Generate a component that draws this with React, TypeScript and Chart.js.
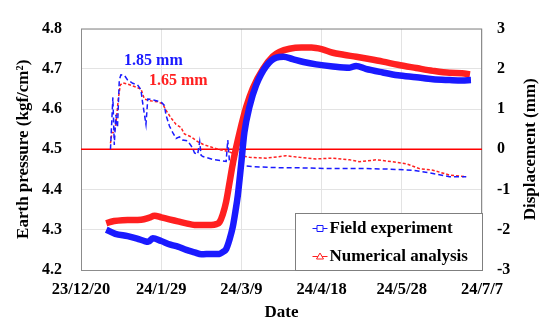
import React, { useEffect, useRef } from "react";
import { Chart, registerables } from "chart.js";

Chart.register(...registerables);

// X axis: days since 2023-12-20, labelled every 40 days
const xTickLabels = ["23/12/20", "24/1/29", "24/3/9", "24/4/18", "24/5/28", "24/7/7"];

// Earth pressure (kgf/cm2), left axis
const fieldPressureDays = [12.6, 17.1, 23.3, 28.0, 31.7, 33.5, 35.8, 40.0, 44.6, 48.3, 52.5, 56.6, 60.1, 64.9, 69.1, 70.5, 72.4, 74.1, 75.7, 77.0, 78.2, 79.9, 81.5, 84.0, 87.4, 92.4, 97.4, 101.0, 105.6, 111.0, 117.3, 125.6, 133.9, 137.2, 142.0, 150.5, 158.0, 167.2, 175.5, 183.8, 190.0, 194.5];
const fieldPressure = [4.300, 4.290, 4.284, 4.278, 4.272, 4.270, 4.279, 4.272, 4.263, 4.258, 4.250, 4.244, 4.239, 4.240, 4.240, 4.244, 4.252, 4.276, 4.307, 4.345, 4.385, 4.464, 4.542, 4.605, 4.660, 4.707, 4.728, 4.730, 4.724, 4.717, 4.711, 4.706, 4.703, 4.707, 4.700, 4.691, 4.684, 4.679, 4.674, 4.672, 4.671, 4.672];

const numericalPressureDays = [12.6, 15.0, 23.3, 30.0, 34.0, 36.7, 40.0, 44.0, 48.3, 52.5, 56.6, 64.9, 67.5, 69.1, 70.7, 72.4, 74.0, 75.7, 77.4, 79.1, 82.4, 85.7, 90.7, 95.7, 99.0, 104.0, 110.0, 115.0, 120.0, 125.6, 131.0, 137.3, 143.0, 150.5, 158.0, 167.2, 175.5, 183.8, 190.0, 194.0];
const numericalPressure = [4.316, 4.320, 4.324, 4.325, 4.330, 4.335, 4.331, 4.326, 4.321, 4.316, 4.312, 4.312, 4.314, 4.319, 4.338, 4.370, 4.415, 4.464, 4.505, 4.542, 4.605, 4.652, 4.699, 4.731, 4.742, 4.750, 4.753, 4.753, 4.749, 4.740, 4.735, 4.730, 4.725, 4.718, 4.710, 4.702, 4.695, 4.690, 4.689, 4.686];

// Displacement (mm), right axis
const fieldDispDays = [14.7, 15.9, 16.6, 17.4, 18.2, 19.1, 19.9, 21.6, 23.3, 25.8, 28.2, 29.9, 30.7, 32.4, 33.3, 34.9, 39.9, 41.6, 42.4, 44.1, 45.7, 47.4, 49.1, 50.7, 53.2, 55.7, 56.6, 58.2, 59.2, 59.9, 60.8, 65.7, 72.4, 73.2, 74.0, 75.7, 80.7, 89.0, 100.0, 109.0, 125.6, 142.2, 152.2, 165.5, 175.5, 183.8, 192.1];
const fieldDisp = [0.00, 1.29, 0.11, 0.86, 0.54, 1.72, 1.85, 1.84, 1.72, 1.64, 1.60, 1.48, 1.17, 0.62, 1.25, 1.24, 1.18, 1.09, 0.85, 0.58, 0.42, 0.27, 0.31, 0.23, 0.21, 0.03, -0.09, -0.12, 0.19, -0.15, -0.18, -0.25, -0.30, 0.23, -0.28, -0.36, -0.41, -0.44, -0.46, -0.46, -0.48, -0.48, -0.49, -0.52, -0.60, -0.68, -0.68];

const numericalDispDays = [14.7, 15.4, 16.6, 17.4, 18.6, 19.6, 20.8, 23.3, 26.6, 29.9, 31.6, 34.1, 38.2, 40.7, 42.4, 44.9, 47.4, 49.9, 51.6, 54.9, 58.2, 61.0, 64.1, 69.1, 73.2, 77.4, 84.0, 92.4, 102.3, 109.0, 117.3, 125.6, 133.9, 138.9, 147.2, 155.5, 162.2, 168.8, 175.5, 183.8, 192.1];
const numericalDisp = [0.15, 0.42, 0.42, 0.62, 1.25, 1.60, 1.65, 1.62, 1.56, 1.50, 1.25, 1.21, 1.18, 1.13, 0.97, 0.78, 0.62, 0.54, 0.38, 0.31, 0.19, 0.12, 0.07, -0.01, -0.05, -0.13, -0.20, -0.22, -0.16, -0.20, -0.24, -0.22, -0.26, -0.31, -0.26, -0.31, -0.36, -0.48, -0.52, -0.64, -0.68];

// Reference line at zero displacement
const zeroLineDays = [0, 200];
const zeroLine = [0, 0];

// Peak labels
const peakLabels = ["1.85 mm", "1.65 mm"];
const peakLabelDays = [36.1, 48.5];
const peakLabelValues = [4.72, 4.671];

const legendLabels = ["Field experiment", "Numerical analysis"];

const FONT = "'Liberation Serif', 'Times New Roman', serif";
const BLUE = "#1a1aff";
const RED = "#ff2020";

export default function App() {
  const ref = useRef<HTMLCanvasElement>(null);

  useEffect(() => {
    const pts = (xs: number[], ys: number[]) => xs.map((x, i) => ({ x, y: ys[i] }));

    const overlay = {
      id: "overlay",
      beforeDatasetsDraw(chart: any) {
        const { ctx, chartArea: a } = chart;
        ctx.save();
        ctx.strokeStyle = "#8c8c8c";
        ctx.lineWidth = 1;
        ctx.strokeRect(a.left + 0.5, a.top + 0.5, a.right - a.left - 1, a.bottom - a.top);
        ctx.restore();
      },
      afterDatasetsDraw(chart: any) {
        const { ctx, scales } = chart;
        ctx.save();
        ctx.font = `bold 16px ${FONT}`;
        ctx.textAlign = "center";
        ctx.textBaseline = "middle";
        const colors = [BLUE, RED];
        peakLabels.forEach((t, i) => {
          ctx.fillStyle = colors[i];
          ctx.fillText(t, scales.x.getPixelForValue(peakLabelDays[i]), scales.y.getPixelForValue(peakLabelValues[i]));
        });
        ctx.restore();
      },
      afterDraw(chart: any) {
        const { ctx, chartArea: a } = chart;
        ctx.save();
        ctx.fillStyle = "#000";
        ctx.font = `bold 17px ${FONT}`;
        ctx.textAlign = "center";
        ctx.textBaseline = "middle";
        const cy = (a.top + a.bottom) / 2;
        ctx.save();
        ctx.translate(24, cy);
        ctx.rotate(-Math.PI / 2);
        ctx.fillText("Earth pressure (kgf/cm²)", 0, 0);
        ctx.restore();
        ctx.save();
        ctx.translate(531, cy);
        ctx.rotate(-Math.PI / 2);
        ctx.fillText("Displacement (mm)", 0, 0);
        ctx.restore();
        ctx.fillText("Date", (a.left + a.right) / 2, 313);

        // legend
        const bw = 187, bh = 57;
        const bx = a.right - bw + 0.5, by = a.bottom - bh + 0.5;
        ctx.fillStyle = "#fff";
        ctx.fillRect(bx, by, bw, bh);
        ctx.strokeStyle = "#7f7f7f";
        ctx.lineWidth = 1;
        ctx.strokeRect(bx, by, bw, bh);
        const rows = [by + 15, by + 43];
        const cols = [BLUE, RED];
        rows.forEach((ry, i) => {
          const lx0 = bx + 17, lx1 = bx + 32, mx = (lx0 + lx1) / 2;
          ctx.strokeStyle = cols[i];
          ctx.lineWidth = 1;
          ctx.beginPath();
          ctx.moveTo(lx0, ry);
          ctx.lineTo(lx1, ry);
          ctx.stroke();
          ctx.fillStyle = "#fff";
          ctx.beginPath();
          if (i === 0) {
            ctx.rect(mx - 3, ry - 3, 6, 6);
          } else {
            ctx.moveTo(mx, ry - 3.5);
            ctx.lineTo(mx + 3.5, ry + 2.5);
            ctx.lineTo(mx - 3.5, ry + 2.5);
            ctx.closePath();
          }
          ctx.fill();
          ctx.stroke();
          ctx.fillStyle = "#000";
          ctx.font = `bold 17px ${FONT}`;
          ctx.textAlign = "left";
          ctx.fillText(legendLabels[i], bx + 34, ry);
        });
        ctx.restore();
      },
    };

    const tickFont = { family: FONT, size: 16, weight: "bold" as const };

    const band = (xs: number[], ys: number[], color: string) => ({
      data: pts(xs, ys),
      yAxisID: "y",
      borderColor: color,
      borderWidth: 6.5,
      pointRadius: 0,
      cubicInterpolationMode: "monotone" as const,
      fill: false,
    });
    const speckle = (xs: number[], ys: number[]) => ({
      data: pts(xs, ys),
      yAxisID: "y",
      borderColor: "rgba(255,255,255,0.45)",
      borderWidth: 1.5,
      borderDash: [1.5, 2.5],
      pointRadius: 0,
      cubicInterpolationMode: "monotone" as const,
      fill: false,
    });

    const chart = new Chart(ref.current as HTMLCanvasElement, {
      type: "line",
      data: {
        datasets: [
          { label: legendLabels[0], ...band(fieldPressureDays, fieldPressure, BLUE) },
          { label: legendLabels[0] + " texture", ...speckle(fieldPressureDays, fieldPressure) },
          { label: legendLabels[1], ...band(numericalPressureDays, numericalPressure, RED) },
          { label: legendLabels[1] + " texture", ...speckle(numericalPressureDays, numericalPressure) },
          {
            label: "Field displacement",
            data: pts(fieldDispDays, fieldDisp),
            yAxisID: "y2",
            borderColor: BLUE,
            borderWidth: 1.5,
            borderDash: [5, 3],
            pointRadius: 0,
            tension: 0,
            fill: false,
          },
          {
            label: "Numerical displacement",
            data: pts(numericalDispDays, numericalDisp),
            yAxisID: "y2",
            borderColor: RED,
            borderWidth: 1.5,
            borderDash: [3, 2],
            pointRadius: 0,
            tension: 0,
            fill: false,
          },
          {
            label: "zero",
            data: pts(zeroLineDays, zeroLine),
            yAxisID: "y2",
            borderColor: "#ff0000",
            borderWidth: 1.5,
            pointRadius: 0,
            fill: false,
          },
        ],
      },
      options: {
        responsive: false,
        animation: false,
        layout: { padding: { top: 15, left: 0, right: 0, bottom: 0 } },
        plugins: { legend: { display: false }, tooltip: { enabled: false } },
        scales: {
          x: {
            type: "linear",
            min: 0,
            max: 200,
            afterFit: (s: any) => { s.height = 52; },
            ticks: {
              stepSize: 40,
              color: "#000",
              font: { ...tickFont, size: 16.5 },
              padding: 10,
              maxRotation: 0,
              callback: (v: any) => xTickLabels[Math.round(Number(v) / 40)] ?? "",
            },
            grid: { color: "#e3e3e3", drawTicks: false },
            border: { display: false },
          },
          y: {
            type: "linear",
            position: "left",
            min: 4.2,
            max: 4.8,
            afterFit: (s: any) => { s.width = 81; },
            ticks: {
              stepSize: 0.1,
              color: "#000",
              font: tickFont,
              padding: 19,
              callback: (v: any) => Number(v).toFixed(1),
            },
            grid: { color: "#e3e3e3", drawTicks: false },
            border: { display: false },
          },
          y2: {
            type: "linear",
            position: "right",
            min: -3,
            max: 3,
            afterFit: (s: any) => { s.width = 60; },
            ticks: {
              stepSize: 1,
              color: "#000",
              font: tickFont,
              padding: 15,
              callback: (v: any) => String(Math.round(Number(v))),
            },
            grid: { display: false, drawTicks: false },
            border: { display: false },
          },
        },
      },
      plugins: [overlay],
    });
    return () => chart.destroy();
  }, []);

  return (
    <div style={{ position: "fixed", left: 0, top: 0, width: 542, height: 322, background: "#fff" }}>
      <canvas ref={ref} width={542} height={322} style={{ display: "block" }} />
    </div>
  );
}
